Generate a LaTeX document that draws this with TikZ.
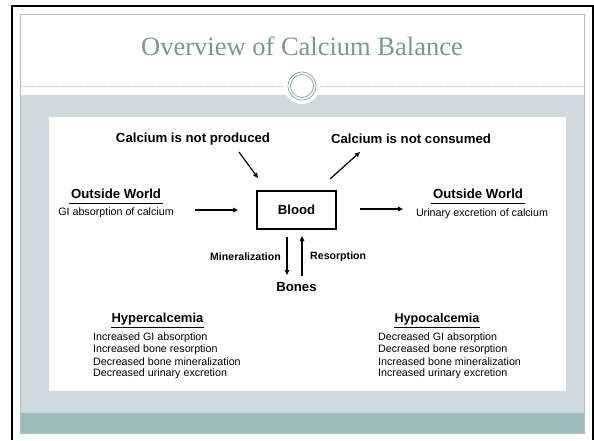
\documentclass[tikz,border=0pt]{standalone}
\usepackage{fontspec}
\setmainfont{Liberation Sans}
\newfontfamily\titlefont{Liberation Serif}
\usetikzlibrary{arrows.meta}
\definecolor{bandgray}{RGB}{207,218,223}
\definecolor{footteal}{RGB}{156,187,188}
\definecolor{slideline}{RGB}{168,196,196}
\definecolor{titlecol}{RGB}{120,152,152}
\definecolor{ringcol}{RGB}{130,160,160}
\definecolor{dotcol}{RGB}{180,200,200}
\tikzset{
  lbl/.style={inner sep=0pt, font=\fontsize{13.2}{14}\selectfont\bfseries},
  small/.style={inner sep=0pt, font=\fontsize{10.7}{12}\selectfont},
  smallbold/.style={inner sep=0pt, font=\fontsize{10.6}{12}\selectfont\bfseries},
  arr/.style={line width=1.2pt, -{Triangle[length=5pt,width=4.5pt]}},
  boxstyle/.style={draw, line width=1.2pt, minimum width=79pt, minimum height=38pt, inner sep=0pt, font=\fontsize{13.2}{14}\selectfont\bfseries},
  uline/.style={line width=1pt}
}
\begin{document}
\begin{tikzpicture}[x=1pt,y=-1pt]
\useasboundingbox (0,0) rectangle (594,440);
\fill[white] (0,0) rectangle (594,440);
% black frame
\draw[line width=1.5pt, black] (12,440) -- (12,6) -- (593,6) -- (593,440);
% slide
\fill[bandgray] (20,95) rectangle (584,413);
\fill[footteal] (20,413) rectangle (584,433);
\fill[white] (302,86) circle (18);
\fill[white] (49,117) rectangle (566,391);
\draw[slideline, line width=0.8pt] (20,14) rectangle (584,433);
% dotted rule and ring
\draw[dotcol, line width=1pt, dash pattern=on 2pt off 1pt] (20,86) -- (284,86);
\draw[dotcol, line width=1pt, dash pattern=on 2pt off 1pt] (320,86) -- (584,86);
\draw[ringcol, line width=0.7pt] (302,86) circle (14);
\draw[ringcol, line width=0.7pt] (302,86) circle (11.5);
% title
\node[inner sep=0pt, text=titlecol, font=\titlefont\fontsize{26.5}{30}\selectfont] (title) at (302,46) {Overview of Calcium Balance};
% content
\node[lbl] (prod) at (193,139) {Calcium is not produced};
\node[lbl] (cons) at (411,139) {Calcium is not consumed};
\node[boxstyle] (blood) at (296.5,210) {Blood};
\node[lbl] (bones) at (296.5,287) {Bones};
\node[lbl] (owl) at (116,194) {Outside World};
\node[small] (gil) at (116,213) {GI absorption of calcium};
\node[lbl] (owr) at (478,194) {Outside World};
\node[small] (uri) at (482,214) {Urinary excretion of calcium};
\node[smallbold, anchor=east] (mine) at (281,257) {Mineralization};
\node[smallbold, anchor=west] (reso) at (310,257) {Resorption};
% underlines
\coordinate (ul1) at (69,203.5); \coordinate (ul2) at (163,203.5);
\coordinate (ur1) at (431,203.5); \coordinate (ur2) at (525,203.5);
\draw[uline] (ul1) -- (ul2);
\draw[uline] (ur1) -- (ur2);
% arrows
\coordinate (a1s) at (239,152); \coordinate (a1e) at (258,178);
\coordinate (a2s) at (330,179); \coordinate (a2e) at (360,152);
\coordinate (a3s) at (195,210); \coordinate (a3e) at (238,210);
\coordinate (a4s) at (360,209); \coordinate (a4e) at (403,209);
\coordinate (a5s) at (287,237); \coordinate (a5e) at (287,275);
\coordinate (a6s) at (302,276); \coordinate (a6e) at (302,236);
\draw[arr] (a1s) -- (a1e);
\draw[arr] (a2s) -- (a2e);
\draw[arr] (a3s) -- (a3e);
\draw[arr] (a4s) -- (a4e);
\draw[arr] (a5s) -- (a5e);
\draw[arr] (a6s) -- (a6e);
% hyper / hypo
\node[lbl, font=\fontsize{13}{14}\selectfont\bfseries] (hyper) at (157.5,319) {Hypercalcemia};
\node[lbl, font=\fontsize{12.6}{14}\selectfont\bfseries] (hypo) at (437,319) {Hypocalcemia};
\draw[uline] (hyper.south west) ++(0,2.5) -- ([yshift=-2.5pt]hyper.south east);
\draw[uline] (hypo.south west) ++(0,2.5) -- ([yshift=-2.5pt]hypo.south east);
\node[small, anchor=west] (l1) at (93,338) {Increased GI absorption};
\node[small, anchor=west] (l2) at (93,350) {Increased bone resorption};
\node[small, anchor=west] (l3) at (93,362) {Decreased bone mineralization};
\node[small, anchor=west] (l4) at (93,374) {Decreased urinary excretion};
\node[small, anchor=west] (r1) at (378,338) {Decreased GI absorption};
\node[small, anchor=west] (r2) at (378,350) {Decreased bone resorption};
\node[small, anchor=west] (r3) at (378,362) {Increased bone mineralization};
\node[small, anchor=west] (r4) at (378,374) {Increased urinary excretion};
\end{tikzpicture}
\end{document}
